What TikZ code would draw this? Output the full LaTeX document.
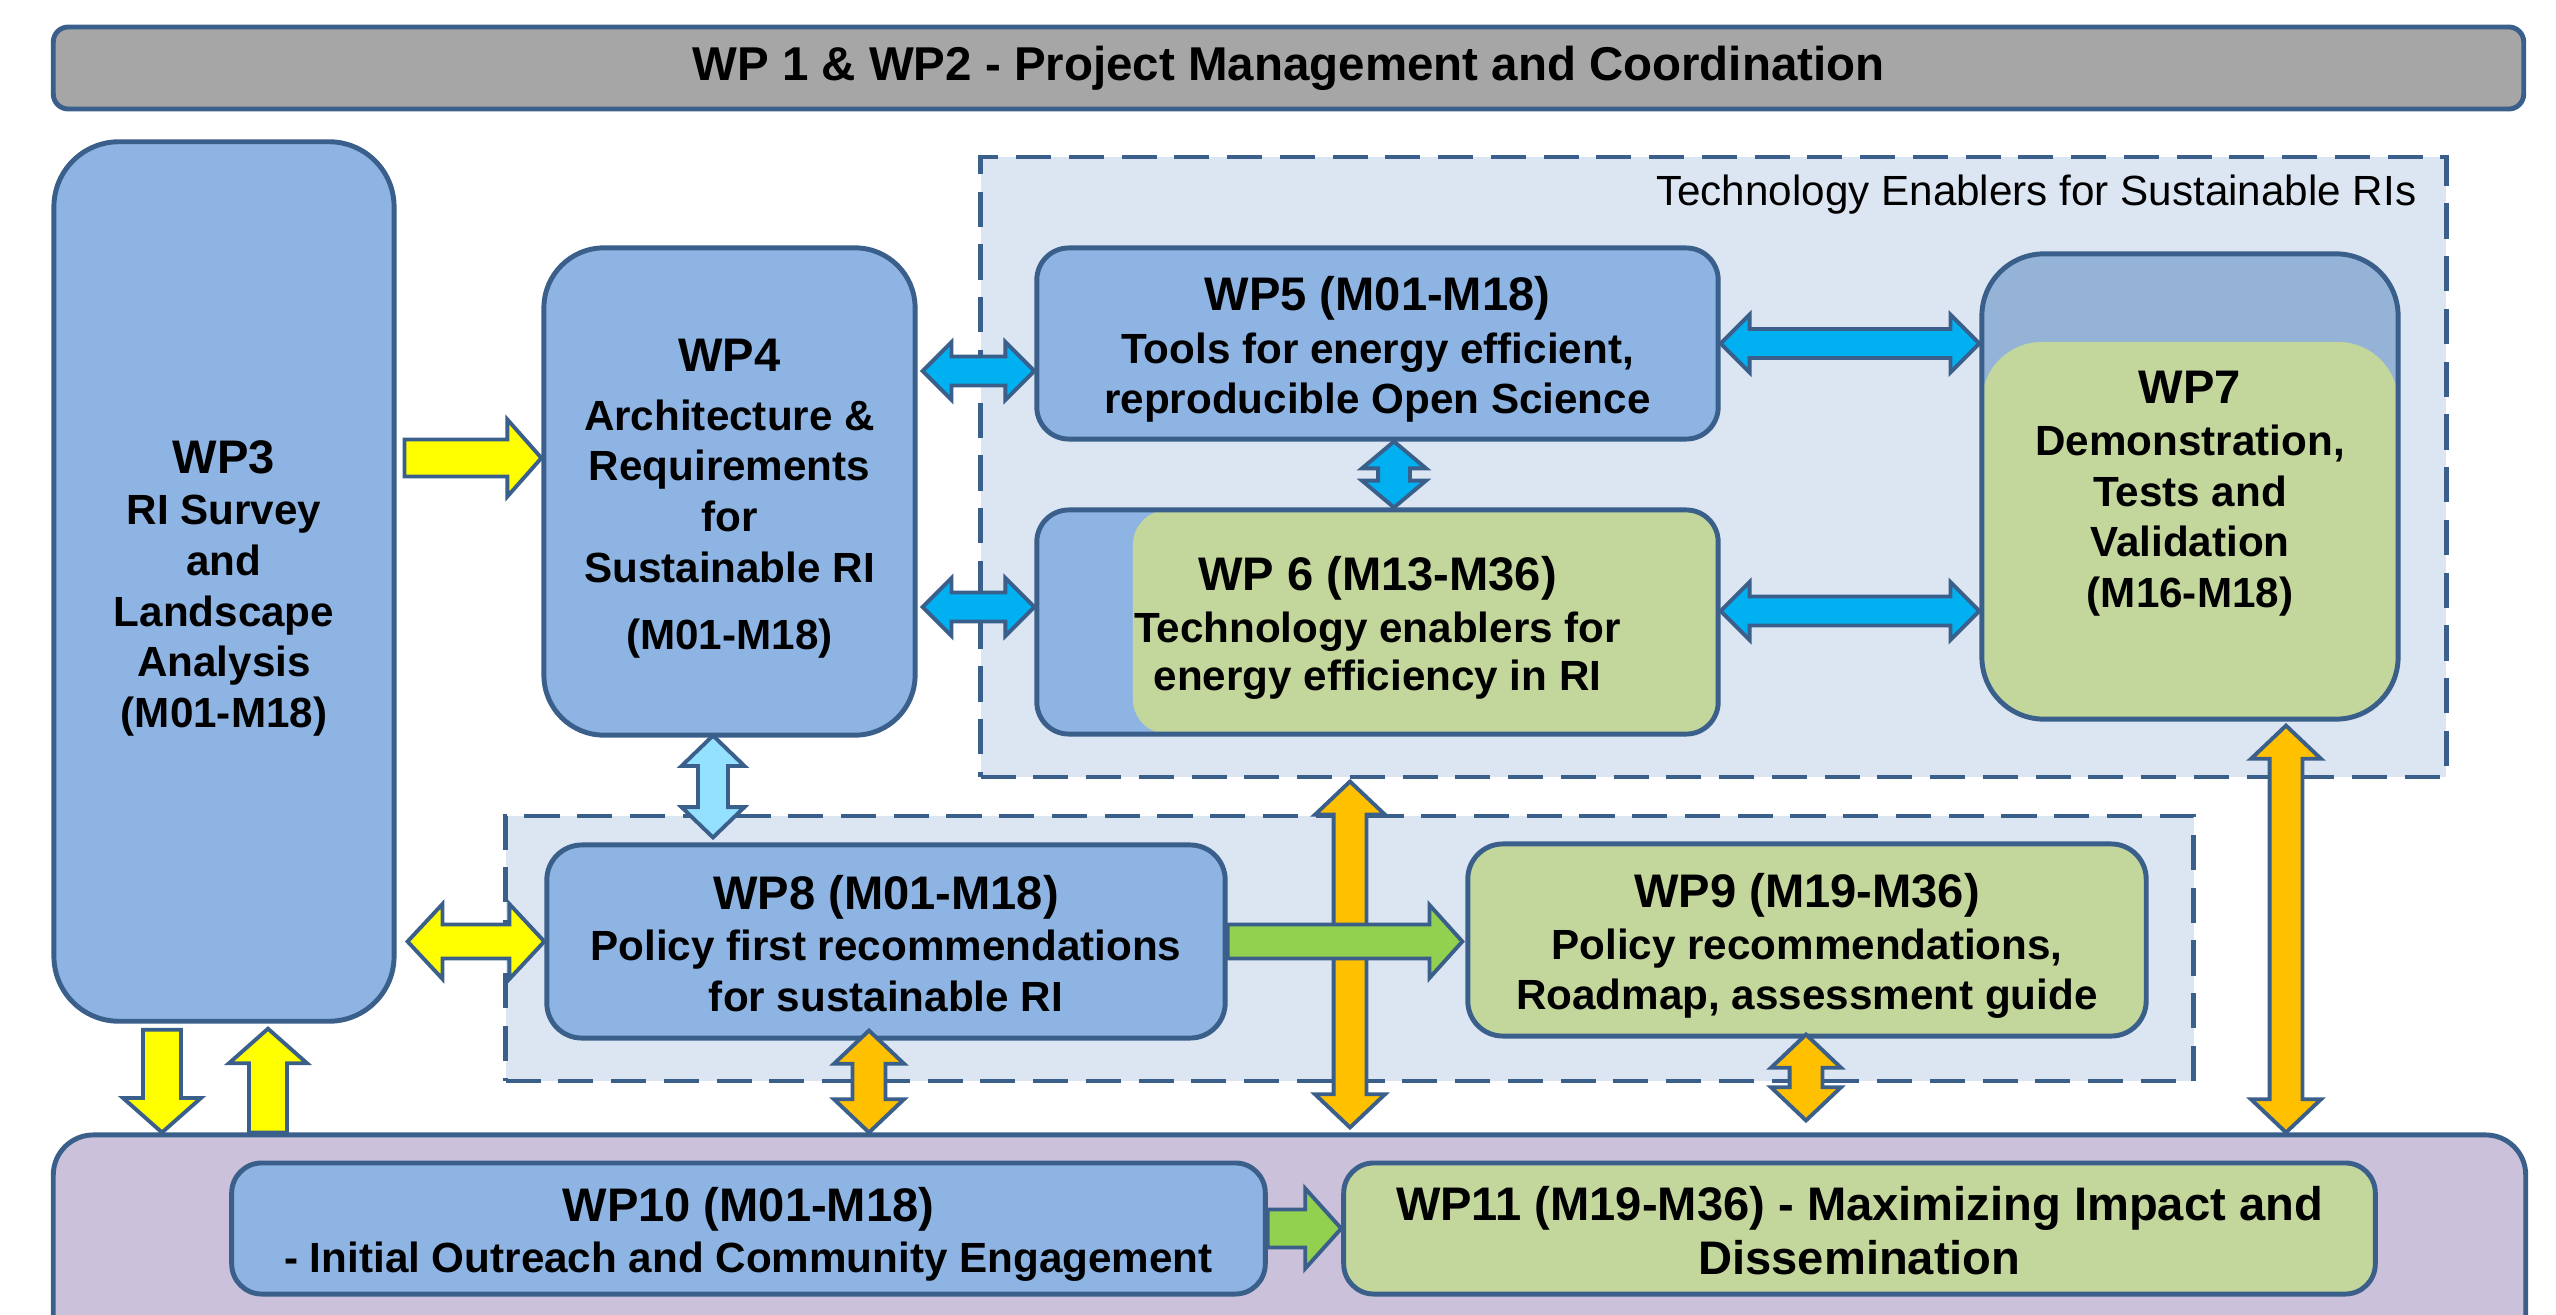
\documentclass[tikz,border=0pt]{standalone}
\usepackage{fontspec}
\setmainfont{Liberation Sans}
\usetikzlibrary{positioning,calc,shapes.arrows}

\definecolor{wpline}{HTML}{3A5F8B}
\definecolor{wpblue}{HTML}{8EB4E3}
\definecolor{wpsteel}{HTML}{95B3D7}
\definecolor{wpgreen}{HTML}{C3D69B}
\definecolor{wpgrey}{HTML}{A6A6A6}
\definecolor{wparea}{HTML}{DCE6F2}
\definecolor{wplilac}{HTML}{CCC1DA}
\definecolor{arryellow}{HTML}{FFFF00}
\definecolor{arrblue}{HTML}{00B0F0}
\definecolor{arrsky}{HTML}{93E1FF}
\definecolor{arrorange}{HTML}{FFC000}
\definecolor{arrgreen}{HTML}{92D050}

\newcommand{\wphead}[1]{{\fontsize{13.4}{15.5}\selectfont\rule{0pt}{13.2pt}#1}}
% block arrows between two points, length taken from the points
\newcommand{\blockarrow}[3][]{%
  \path let \p1=#2, \p2=#3, \n1={atan2(\y2-\y1,\x2-\x1)}, \n2={veclen(\x2-\x1,\y2-\y1)} in
    node[#1, rotate=\n1, minimum height=\n2, anchor=tail] at (\p1) {};%
}
\newcommand{\blockarrows}[3][]{%
  \path let \p1=#2, \p2=#3, \n1={atan2(\y2-\y1,\x2-\x1)}, \n2={veclen(\x2-\x1,\y2-\y1)} in
    node[#1, rotate=\n1, minimum height=\n2] at ($(\p1)!0.5!(\p2)$) {};%
}

\begin{document}
\begin{tikzpicture}[x=0.01cm,y=-0.01cm]
    \tikzstyle{box}=[draw=wpline, line width=1.4pt, fill=wpblue, align=center, inner sep=0pt, font=\bfseries\fontsize{12}{14.4}\selectfont]
    \tikzstyle{area}=[draw=wpline, line width=1.3pt, fill=wparea, dash pattern=on 10pt off 5pt]
    \tikzstyle{barrow}=[draw=wpline, line width=1.1pt, inner xsep=0pt, outer sep=0pt]
    \tikzstyle{yellowone}=[barrow, single arrow, fill=arryellow, inner ysep=0.165cm, single arrow head extend=0.2cm, single arrow tip angle=97]
    \tikzstyle{yellowtwo}=[barrow, double arrow, fill=arryellow, inner ysep=0.15cm, double arrow head extend=0.205cm, double arrow tip angle=94]
    \tikzstyle{bluetwo}=[barrow, double arrow, fill=arrblue, inner ysep=0.125cm, double arrow head extend=0.145cm, double arrow tip angle=90]
    \tikzstyle{skytwo}=[barrow, double arrow, fill=arrsky, inner ysep=0.13cm, double arrow head extend=0.165cm, double arrow tip angle=92]
    \tikzstyle{orangetwo}=[barrow, double arrow, fill=arrorange, inner ysep=0.145cm, double arrow head extend=0.185cm, double arrow tip angle=93]
    \tikzstyle{greenone}=[barrow, single arrow, fill=arrgreen, inner ysep=0.15cm, single arrow head extend=0.195cm, single arrow tip angle=96]

    \useasboundingbox (0,0) rectangle (2556,1315);

    % frames
    \node (WP12) [box, fill=wpgrey, rounded corners=0.15cm, minimum width=24.69cm, minimum height=0.82cm, font=\bfseries\fontsize{13.5}{16}\selectfont] at (1288.5,68) {WP 1 \& WP2 - Project Management and Coordination};
    \node (Tech) [area, minimum width=14.65cm, minimum height=6.20cm] at (1713.5,467) {};
    \node (TechLabel) [anchor=base east, inner sep=0pt, font=\fontsize{12}{14}\selectfont] at (2417,205) {Technology Enablers for Sustainable RIs};
    \node (Policy) [area, minimum width=16.87cm, minimum height=2.65cm] at (1349.5,948.5) {};
    \node (Bottom) [box, fill=wplilac, rounded corners=0.4cm, minimum width=24.71cm, minimum height=2.25cm] at (1289.5,1247.5) {};

    % work packages
    \node (WP3) [box, rounded corners=0.65cm, minimum width=3.40cm, minimum height=8.79cm] at (224,581.5)
        {\wphead{WP3}\\[0.3pt] RI Survey\\ and\\ Landscape\\ Analysis\\ (M01-M18)};
    \node (WP4) [box, rounded corners=0.6cm, minimum width=3.71cm, minimum height=4.87cm] at (729.5,491.5)
        {\wphead{WP4}\\[2.3pt] Architecture \&\\ Requirements\\ for\\ Sustainable RI\\[4.6pt] (M01-M18)};
    \node (WP5) [box, rounded corners=0.32cm, minimum width=6.81cm, minimum height=1.91cm] at (1377.5,343.5)
        {\wphead{WP5 (M01-M18)}\\[0.5pt] Tools for energy efficient,\\ reproducible Open Science};
    \node (WP6) [box, rounded corners=0.32cm, minimum width=6.81cm, minimum height=2.24cm,
        path picture={\fill[wpgreen, rounded corners=0.35cm] ([xshift=0.96cm]path picture bounding box.north west) rectangle (path picture bounding box.south east);}] at (1377.5,622)
        {\wphead{WP 6 (M13-M36)}\\[0.3pt] Technology enablers for\\[-0.8pt] energy efficiency in RI};
    \node (WP7) [box, fill=wpsteel, rounded corners=0.62cm, minimum width=4.16cm, minimum height=4.65cm,
        path picture={\fill[wpgreen, rounded corners=0.6cm] ([yshift=-0.88cm]path picture bounding box.north west) rectangle (path picture bounding box.south east);}] at (2190,486.5)
        {\wphead{WP7}\\[0.5pt] Demonstration,\\ Tests and\\ Validation\\ (M16-M18)};
    \node (WP8) [box, rounded corners=0.35cm, minimum width=6.78cm, minimum height=1.93cm] at (886,941.5)
        {\wphead{WP8 (M01-M18)}\\[0.3pt] Policy first recommendations\\ for sustainable RI\rule[-2.5pt]{0pt}{1pt}};
    \node (WP9) [box, fill=wpgreen, rounded corners=0.35cm, minimum width=6.78cm, minimum height=1.92cm] at (1807,940)
        {\wphead{WP9 (M19-M36)}\\[0.3pt] Policy recommendations,\\ Roadmap, assessment guide};
    \node (WP10) [box, rounded corners=0.3cm, minimum width=10.33cm, minimum height=1.31cm] at (748.5,1228.5)
        {\wphead{WP10 (M01-M18)}\\ - Initial Outreach and Community Engagement};
    \node (WP11) [box, fill=wpgreen, rounded corners=0.3cm, minimum width=10.31cm, minimum height=1.31cm, font=\bfseries\fontsize{13.4}{15.3}\selectfont] at (1859.5,1228.5)
        {\rule{0pt}{11pt}WP11 (M19-M36) - Maximizing Impact and\\ Dissemination};

    % links
    \blockarrow[yellowone, name=A34]{($(WP3.east |- 0,458)+(8,0)$)}{(WP4.west |- 0,458)}
    \blockarrows[bluetwo, name=A45]{($(WP4.east |- 0,371)+(5,0)$)}{(WP5.west |- 0,371)}
    \blockarrows[bluetwo, name=A46]{($(WP4.east |- 0,607)+(5,0)$)}{(WP6.west |- 0,607)}
    \blockarrows[bluetwo, name=A56, inner ysep=0.14cm, double arrow head extend=0.16cm, double arrow tip angle=100]{(WP5.south -| 1394,0)}{(WP6.north -| 1394,0)}
    \blockarrows[bluetwo, name=A57]{(WP5.east)}{(WP7.west |- WP5.east)}
    \blockarrows[bluetwo, name=A67]{(WP6.east |- 0,611)}{(WP7.west |- 0,611)}
    \blockarrows[skytwo, name=A48]{($(WP4.south -| 713,0)+(0,-2)$)}{($(WP8.north -| 713,0)+(0,-5)$)}
    \blockarrows[yellowtwo, name=A38]{($(WP3.east |- WP8.west)+(11,0)$)}{(WP8.west)}
    \blockarrow[yellowone, name=A3B, inner ysep=0.17cm]{($(WP3.south -| 162,0)+(0,6)$)}{(Bottom.north -| 162,0)}
    \blockarrow[yellowone, name=AB3, inner ysep=0.17cm]{(Bottom.north -| 268,0)}{($(WP3.south -| 268,0)+(0,5)$)}
    \blockarrows[orangetwo, name=A8B]{($(WP8.south -| 869,0)+(0,-10)$)}{(Bottom.north -| 869,0)}
    \blockarrows[orangetwo, name=ATB]{($(Tech.south -| 1350,0)+(0,2)$)}{($(Bottom.north -| 1350,0)+(0,-5)$)}
    \blockarrows[orangetwo, name=A9B]{($(WP9.south -| 1806,0)+(0,-4)$)}{($(Bottom.north -| 1806,0)+(0,-12)$)}
    \blockarrows[orangetwo, name=A7B]{($(WP7.south -| 2286,0)+(0,4)$)}{(Bottom.north -| 2286,0)}
    \blockarrow[greenone, name=A89]{(WP8.east)}{($(WP9.west |- WP8.east)+(-3,0)$)}
    \blockarrow[greenone, name=A1011, inner ysep=0.17cm, single arrow head extend=0.21cm]{(WP10.east)}{(WP11.west)}

\end{tikzpicture}
\end{document}
